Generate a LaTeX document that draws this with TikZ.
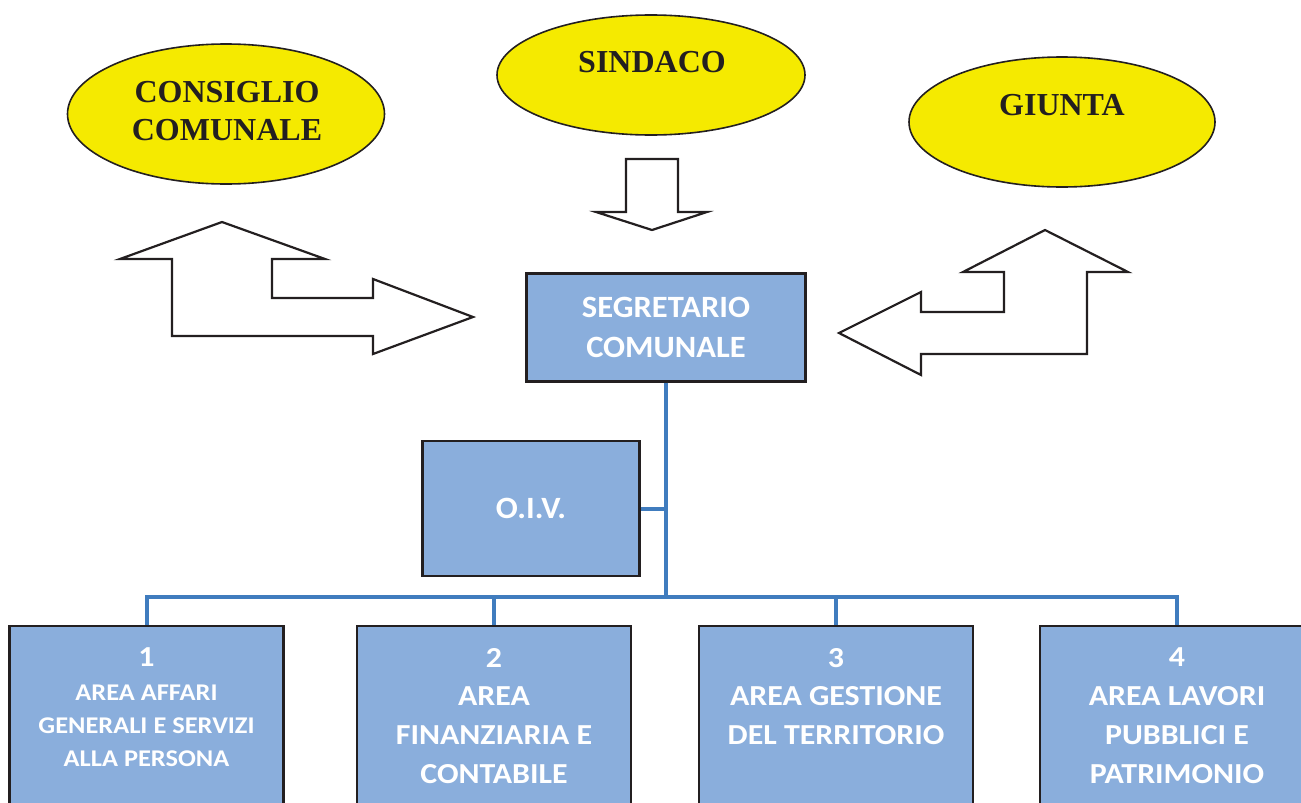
\documentclass[tikz,border=0pt]{standalone}
\usepackage{fontspec}
\setmainfont{Liberation Serif}
\newfontfamily\calibri[FakeStretch=1.05]{Carlito}
\newfontfamily\calibrilarga[FakeStretch=1.1]{Carlito}
\usetikzlibrary{shapes.geometric,positioning}
\definecolor{giallo}{RGB}{245,234,0}
\definecolor{azzurro}{RGB}{138,174,220}
\definecolor{linea}{RGB}{64,124,190}
\definecolor{bordo}{RGB}{35,31,32}
\begin{document}
\begin{tikzpicture}[x=1pt,y=-1pt,
	organo/.style={ellipse,draw=bordo,line width=1.6pt,fill=giallo,inner sep=0pt},
	organotesto/.style={font=\bfseries\fontsize{32}{38.5}\selectfont,text=bordo,align=center,inner sep=0pt},
	ufficio/.style={rectangle,draw=bordo,line width=2.2pt,fill=azzurro,inner sep=0pt,
		font=\calibri\bfseries\fontsize{31}{40}\selectfont,text=white,align=center},
	area/.style={ufficio,minimum width=274pt,minimum height=180pt},
	areatesto/.style={font=\calibrilarga\bfseries\fontsize{29}{38.7}\selectfont,text=white,align=center,inner sep=0pt},
	freccia/.style={draw=bordo,line width=2.2pt,line join=miter},
	ramo/.style={draw=linea,line width=4pt}]
	\useasboundingbox (0,0) rectangle (1301,803);
	\clip (0,0) rectangle (1301,803);

	\node[organo,minimum width=317pt,minimum height=140pt] (consiglio) at (226,114) {};
	\node[organo,minimum width=308pt,minimum height=120pt] (sindaco) at (651,75) {};
	\node[organo,minimum width=306pt,minimum height=130pt] (giunta) at (1062,122) {};
	\node[organotesto] (consiglioT) at (227,111) {CONSIGLIO\\COMUNALE};
	\node[organotesto] (sindacoT) at (652,62) {SINDACO};
	\node[organotesto] (giuntaT) at (1062,105) {GIUNTA};

	\draw[freccia] (626,159) -- (678,159) -- (678,212) -- (707,212) -- (652,230) -- (596,212) -- (626,212) -- cycle;
	\draw[freccia] (222,222) -- (325,259) -- (272,259) -- (272,298) -- (373,298) -- (373,279) -- (473,317)
		-- (373,354) -- (373,336) -- (172,336) -- (172,259) -- (120,259) -- cycle;
	\draw[freccia] (1045,230) -- (1128,272) -- (1087,272) -- (1087,354) -- (921,354) -- (921,375) -- (839,333)
		-- (921,292) -- (921,312) -- (1004,312) -- (1004,272) -- (963,272) -- cycle;

	\node[ufficio,minimum width=279pt,minimum height=108pt] (segretario) at (666,327.5) {SEGRETARIO\\COMUNALE};
	\node[ufficio,minimum width=217pt,minimum height=135pt] (oiv) at (531,508.5) {O.I.V.};
	\node[area] (a1) at (146.5,716) {};
	\node[area] (a2) at (494,716) {};
	\node[area] (a3) at (836,716) {};
	\node[area] (a4) at (1177,716) {};

	\node[areatesto,below=23pt of a1.north] (a1T) {1\\[-5pt]{\fontsize{24}{33}\selectfont AREA AFFARI}\\[-6pt]
		{\fontsize{24}{33}\selectfont GENERALI E SERVIZI}\\[-6pt]{\fontsize{24}{33}\selectfont ALLA PERSONA}};
	\node[areatesto,below=23pt of a2.north] (a2T) {2\\AREA\\FINANZIARIA E\\CONTABILE};
	\node[areatesto,below=23pt of a3.north] (a3T) {3\\AREA GESTIONE\\DEL TERRITORIO};
	\node[areatesto,below=23pt of a4.north] (a4T) {4\\AREA LAVORI\\PUBBLICI E\\PATRIMONIO};

	\coordinate (snodo) at ([yshift=-214.5pt]segretario.south);
	\draw[ramo] (segretario.south) -- (snodo);
	\draw[ramo] (oiv.east) -- (oiv.east -| snodo);
	\draw[ramo] (a1.north) |- (snodo) -| (a4.north);
	\draw[ramo] (snodo -| a2.north) -- (a2.north);
	\draw[ramo] (snodo -| a3.north) -- (a3.north);
\end{tikzpicture}
\end{document}
